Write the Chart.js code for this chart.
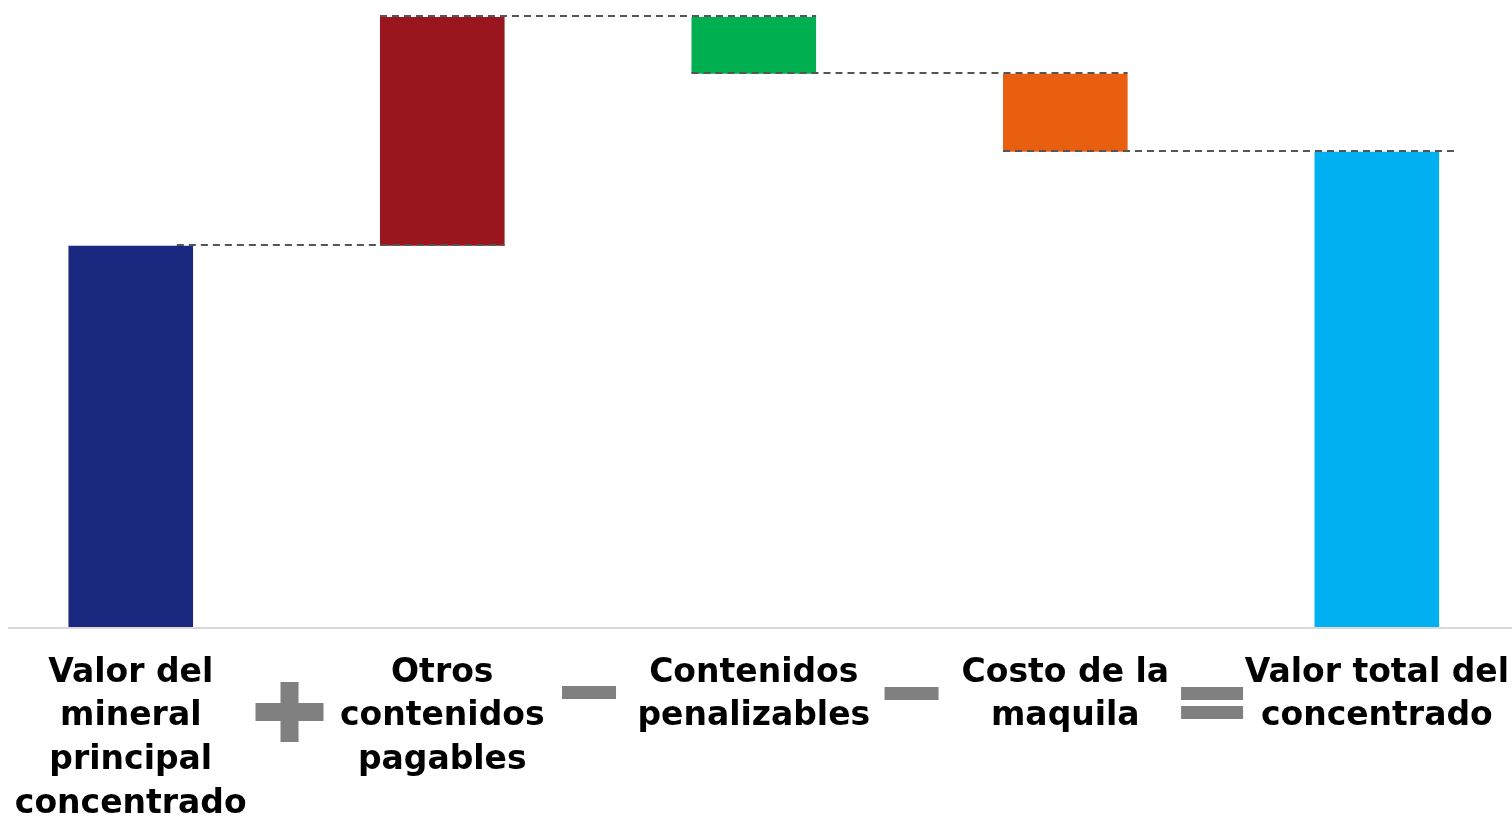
<!DOCTYPE html>
<html>
<head>
<meta charset="utf-8">
<script src="https://cdn.jsdelivr.net/npm/chart.js@4"></script>
<style>
  html, body { margin: 0; padding: 0; background: #fff; overflow: hidden; width: 1512px; height: 818px; }
  /* the plot runs a little past both page edges in the picture */
  #chart-wrap { width: 1558px; height: 818px; margin-left: -25px; }
</style>
</head>
<body>
<div id="chart-wrap"><canvas id="waterfall-chart"></canvas></div>
<script>
// categories of the waterfall (multi-line tick labels)
const categories = [
  ['Valor del', 'mineral', 'principal', 'concentrado'],
  ['Otros', 'contenidos', 'pagables'],
  ['Contenidos', 'penalizables'],
  ['Costo de la', 'maquila'],
  ['Valor total del', 'concentrado']
];
// step values (relative units, top of chart = 100)
const steps = [62.5, 37.5, -9.3, -12.8];
const total = 77.9;
const barColors = ['#1b287f', '#9a161f', '#00b050', '#e8600f', '#00b0f0'];
// operator drawn between each pair of categories
const operators = ['+', '-', '-', '='];

// build the floating ranges for the waterfall
let running = 0;
const ranges = steps.map(v => {
  const r = [running, running + v];
  running += v;
  return r;
});
ranges.push([0, total]);

// dashed connectors from the end of one bar to the next bar
const connectorPlugin = {
  id: 'connectors',
  afterDatasetsDraw(chart) {
    const ctx = chart.ctx;
    const y = chart.scales.y;
    const bars = chart.getDatasetMeta(0).data;
    ctx.save();
    ctx.strokeStyle = '#555';
    ctx.lineWidth = 2;
    ctx.setLineDash([7, 5]);
    for (let i = 0; i < bars.length - 1; i++) {
      const py = Math.round(y.getPixelForValue(ranges[i][1])) - 1;
      const x0 = i === 0 ? bars[i].x + bars[i].width * 0.37 : bars[i].x - bars[i].width / 2;
      const x1 = bars[i + 1].x + bars[i + 1].width / 2 + (i === bars.length - 2 ? 15 : 0);
      ctx.beginPath();
      ctx.moveTo(x0, py);
      ctx.lineTo(x1, py);
      ctx.stroke();
    }
    ctx.restore();
  }
};

// light grey baseline under the bars
const baselinePlugin = {
  id: 'baseline',
  beforeDatasetsDraw(chart) {
    const ctx = chart.ctx;
    const yb = chart.chartArea.bottom;
    ctx.save();
    ctx.strokeStyle = '#d9d9d9';
    ctx.lineWidth = 2;
    ctx.beginPath();
    ctx.moveTo(33, yb + 1);
    ctx.lineTo(chart.width, yb + 1);
    ctx.stroke();
    ctx.restore();
  }
};

// the grey + - - = signs between the labels
const operatorPlugin = {
  id: 'operators',
  afterDraw(chart) {
    const ctx = chart.ctx;
    const x = chart.scales.x;
    const base = chart.chartArea.bottom;
    const nudge = [3, -9, 2, -9];
    ctx.save();
    ctx.fillStyle = '#808080';
    operators.forEach((op, i) => {
      const cx = (x.getPixelForValue(i) + x.getPixelForValue(i + 1)) / 2 + nudge[i];
      if (op === '+') {
        const cy = base + 85;
        ctx.fillRect(cx - 34, cy - 9, 68, 18);
        ctx.fillRect(cx - 9, cy - 30, 18, 60);
      } else if (op === '-') {
        const cy = base + 65 + i;
        ctx.fillRect(cx - 27, cy - 7, 54, 13);
      } else if (op === '=') {
        const cy = base + 76;
        ctx.fillRect(cx - 31, cy - 16, 62, 13);
        ctx.fillRect(cx - 31, cy + 3, 62, 13);
      }
    });
    ctx.restore();
  }
};

new Chart(document.getElementById('waterfall-chart'), {
  type: 'bar',
  data: {
    labels: categories,
    datasets: [{
      data: ranges,
      backgroundColor: barColors,
      borderWidth: 0,
      categoryPercentage: 1,
      barPercentage: 0.4
    }]
  },
  options: {
    responsive: true,
    maintainAspectRatio: false,
    animation: false,
    layout: { padding: { left: 0, right: 0, top: 17, bottom: 0 } },
    plugins: {
      legend: { display: false },
      tooltip: { enabled: false }
    },
    scales: {
      x: {
        grid: { display: false, drawTicks: false },
        border: { display: false },
        ticks: {
          color: '#000',
          autoSkip: false,
          maxRotation: 0,
          minRotation: 0,
          padding: 24,
          font: { family: 'DejaVu Sans', weight: 'bold', size: 33, lineHeight: 1.33 }
        },
        afterFit: scale => { scale.height = 191; } // keep the baseline where the picture has it
      },
      y: {
        display: false,
        min: 0,
        max: 100
      }
    }
  },
  plugins: [baselinePlugin, connectorPlugin, operatorPlugin]
});
</script>
</body>
</html>
